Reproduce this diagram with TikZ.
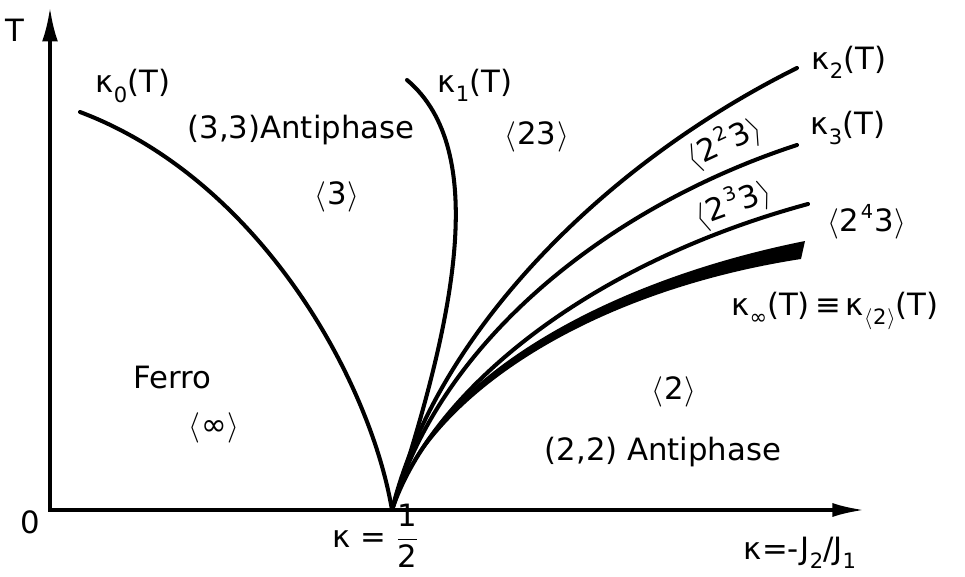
\documentclass[tikz,border=0pt]{standalone}
\usepackage{fontspec}
\setmainfont{DejaVu Sans}
\usetikzlibrary{arrows.meta}
\newcommand{\lowr}[1]{\raisebox{-0.55ex}{\fontsize{12}{12}\selectfont #1}}
\newcommand{\highr}[1]{\kern0.8pt\raisebox{0.8ex}{\fontsize{11}{11}\selectfont #1}\kern0.8pt}
\newcommand{\ang}[1]{$\langle$\kern0.5pt#1\kern0.5pt$\rangle$}
\tikzset{
  phaseline/.style={line width=2.3pt,line cap=round},
  axisline/.style={line width=1.8pt,{Latex[length=19pt,width=9pt]}-{Latex[length=18pt,width=8pt]}},
  lbl/.style={inner sep=0pt,font=\fontsize{17.5}{20}\selectfont},
}

\begin{document}
\begin{tikzpicture}[x=0.02cm,y=0.02cm]
  \useasboundingbox (0,0) rectangle (965,576);
  % axes
  \coordinate (orig) at (50,66);
  \coordinate (cusp) at (392,66);
  \coordinate (ttip) at (50,568);
  \coordinate (ktip) at (864,66);
  \draw[axisline] (ttip) -- (orig) -- (ktip);

  % phase boundaries
  \draw[phaseline] (80,464) .. controls (260,396) and (370,196) .. (cusp);
  \draw[phaseline] (407,496) .. controls (490,426) and (455,256) .. (cusp);
  \draw[phaseline] (cusp) .. controls (435,240) and (600,410) .. (797,508);
  \draw[phaseline] (cusp) .. controls (440,236) and (610,370) .. (797,431);
  \draw[phaseline] (cusp) .. controls (430,180) and (580,310) .. (808,372);
  \fill (cusp) .. controls (425,193) and (600,294) .. (805,335)
        -- (801,317) .. controls (600,286) and (433,187) .. (cusp);

  % axis labels
  \node[lbl] (tlab) at (15,546) {T};
  \node[lbl] (zero) at (30,54) {0};
  \node[lbl] (khalf) at (376,40) {κ = $\displaystyle\frac{\mbox{1}}{\mbox{2}}$};
  \node[lbl] (kdef) at (800,23) {κ=-J\lowr{2}/J\lowr{1}};

  % curve labels
  \node[lbl] (k0lab) at (133,490) {κ\lowr{0}(T)};
  \node[lbl] (k1lab) at (475,491) {κ\lowr{1}(T)};
  \node[lbl] (k2lab) at (849,514) {κ\lowr{2}(T)};
  \node[lbl] (k3lab) at (848,448) {κ\lowr{3}(T)};
  \node[lbl] (kinflab) at (835,265) {κ\lowr{∞}(T)\,≡\,κ\lowr{\ang{2}}(T)};

  % phase labels
  \node[lbl] (ap33) at (301,446) {(3,3)Antiphase};
  \node[lbl] (p3) at (337,379) {\ang{3}};
  \node[lbl] (p23) at (537,439) {\ang{23}};
  \node[lbl,rotate=25] (p223) at (724,433) {\ang{2\highr{2}3}};
  \node[lbl,rotate=20] (p233) at (733,372) {\ang{2\highr{3}3}};
  \node[lbl] (p243) at (867,354) {\ang{2\highr{4}3}};
  \node[lbl] (ferro) at (172,198) {Ferro};
  \node[lbl] (pinf) at (214,148) {\ang{∞}};
  \node[lbl] (p2) at (674,184) {\ang{2}};
  \node[lbl] (ap22) at (663,124) {(2,2) Antiphase};
\end{tikzpicture}
\end{document}
